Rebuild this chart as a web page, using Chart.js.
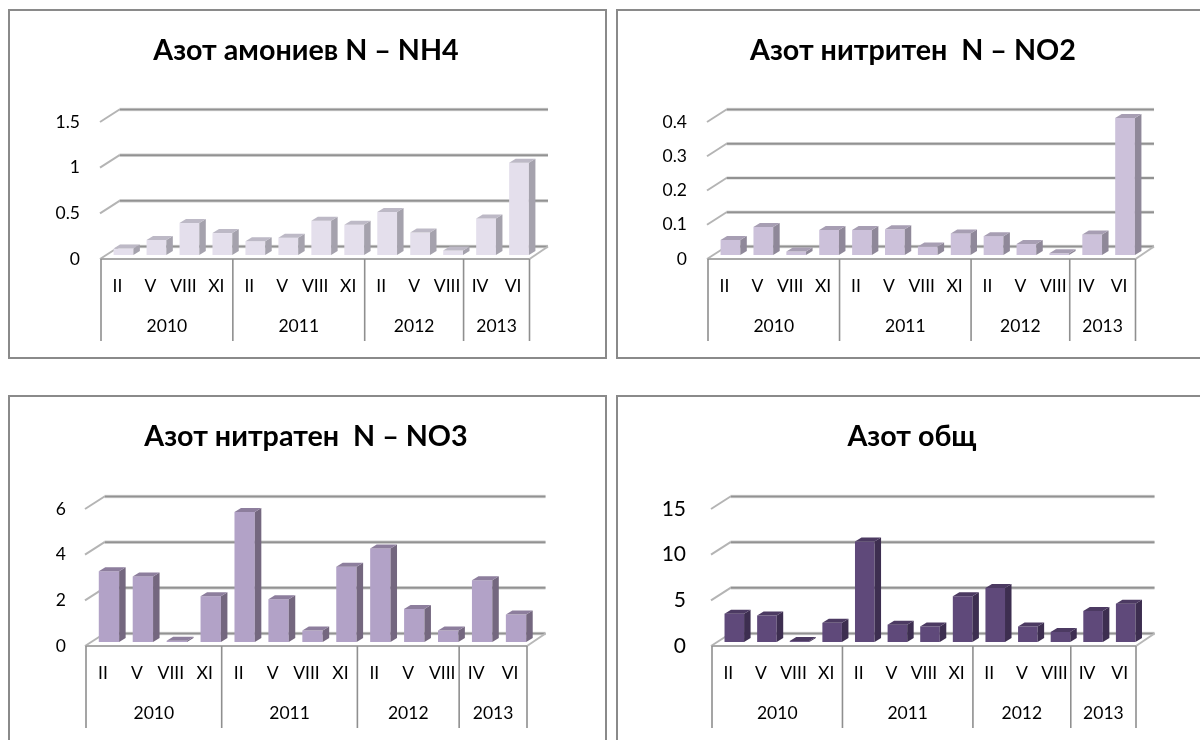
<!DOCTYPE html>
<html><head><meta charset="utf-8">
<style>
html,body{margin:0;padding:0;background:#fff;overflow:hidden;width:1200px;height:740px}
.panel{position:absolute;box-sizing:border-box;border:2px solid #8a8a8a;background:#fff}
.panel canvas{position:absolute;left:-2px;top:-2px}
</style>
<script src="https://cdn.jsdelivr.net/npm/chart.js@4"></script>
</head><body>
<script>
const months = ['II','V','VIII','XI','II','V','VIII','XI','II','V','VIII','IV','VI'];
const yearLabels = ['2010','2011','2012','2013'];
const yearSpans = [4,4,3,2];
const ammoniumValues = [0.07,0.165,0.35,0.24,0.15,0.19,0.375,0.33,0.47,0.245,0.05,0.40,1.01];
const nitriteValues = [0.044,0.082,0.01,0.073,0.073,0.075,0.025,0.063,0.055,0.032,0.005,0.06,0.40];
const nitrateValues = [3.1,2.87,0.05,2.0,5.69,1.87,0.5,3.3,4.1,1.45,0.5,2.7,1.2];
const totalValues = [3.1,2.9,0.1,2.1,11.0,1.9,1.7,5.0,5.9,1.7,1.1,3.4,4.2];

const charts = [
 {title:'Азот амониев N – NH4', values:ammoniumValues, max:1.5, step:0.5, tickFont:17.5, tickPad:21, titleMid:51, titleX:306,
  panel:[8,9,599,350], axis:[101,529.5,259], colors:['#E4DFEC','#A5A2AD','#BDB9C6']},
 {title:'Азот нитритен  N – NO2', values:nitriteValues, max:0.4, step:0.1, tickFont:17.5, tickPad:21, titleMid:51, titleX:913,
  panel:[616,9,594,350], axis:[708,1135.5,259], colors:['#CCC1DA','#8F8899','#A79EB3']},
 {title:'Азот нитратен  N – NO3', values:nitrateValues, max:6, step:2, tickFont:17.5, tickPad:20, titleMid:437, titleX:306,
  panel:[8,395,599,350], axis:[86,527,646], colors:['#B2A2C7','#74677F','#8D7E9D']},
 {title:'Азот общ', values:totalValues, max:15, step:5, tickFont:21, tickPad:26, titleMid:437, titleX:912,
  panel:[616,395,594,350], axis:[712,1136,646], colors:['#5F497A','#3D2E50','#4C3A62']}
];
const FONT = 'Lato';
const PLOT_H = 137, DEPTH_X = 18.5, DEPTH_Y = 12.5, BAR_DX = 6, BAR_DY = 4, SIDE_X = 6.5, SIDE_Y = 4;
const MONTH_ROW = 41, YEAR_ROW = 41, TITLE_SIZE = 28.7;

function line(ctx,x1,y1,x2,y2,color,w){
  ctx.strokeStyle=color;ctx.lineWidth=w;ctx.beginPath();ctx.moveTo(x1,y1);ctx.lineTo(x2,y2);ctx.stroke();
}
const frame3d = {
  id:'frame3d',
  beforeDatasetsDraw(chart){
    const {ctx,scales:{x,y}} = chart;
    const L=x.left,R=x.right;
    ctx.save();
    y.ticks.forEach(t=>{
      const py=y.getPixelForValue(t.value);
      line(ctx,L-1,py,L+DEPTH_X,py-DEPTH_Y,'#b4b4b4',2);
      line(ctx,L+DEPTH_X,py-DEPTH_Y,R+DEPTH_X,py-DEPTH_Y,'#dedede',3.6);
      line(ctx,L+DEPTH_X,py-DEPTH_Y,R+DEPTH_X,py-DEPTH_Y,'#929292',2);
    });
    const f=y.getPixelForValue(0);
    line(ctx,R,f,R+DEPTH_X,f-DEPTH_Y,'#b8b8b8',2);
    line(ctx,L,f,R,f,'#a8a8a8',2);
    let n=0;
    const edges=[0,...yearSpans.map(s=>(n+=s))];
    edges.forEach(e=>{
      const px=L+(R-L)*e/months.length;
      line(ctx,px,f,px,f+MONTH_ROW+YEAR_ROW,'#8f8f8f',1.6);
    });
    ctx.restore();
  },
  beforeDatasetDraw(chart){
    chart.ctx.save();
    chart.ctx.translate(BAR_DX,-BAR_DY);
  },
  afterDatasetDraw(chart,args){
    const ctx=chart.ctx, c=chart.data.datasets[args.index].faceColors;
    args.meta.data.forEach(b=>{
      const {x,y,base,width}=b.getProps(['x','y','base','width'],true);
      const l=x-width/2,r=x+width/2;
      ctx.fillStyle=c[1];
      ctx.beginPath();ctx.moveTo(r,y);ctx.lineTo(r+SIDE_X,y-SIDE_Y);ctx.lineTo(r+SIDE_X,base-SIDE_Y);ctx.lineTo(r,base);ctx.closePath();ctx.fill();
      ctx.fillStyle=c[2];
      ctx.beginPath();ctx.moveTo(l,y);ctx.lineTo(l+SIDE_X,y-SIDE_Y);ctx.lineTo(r+SIDE_X,y-SIDE_Y);ctx.lineTo(r,y);ctx.closePath();ctx.fill();
    });
    ctx.restore();
  }
};

charts.forEach(cfg=>{
  const [pl,pt,pw,ph]=cfg.panel, [al,ar,floor]=cfg.axis;
  const div=document.createElement('div');
  div.className='panel';
  div.style.cssText=`left:${pl}px;top:${pt}px;width:${pw}px;height:${ph}px`;
  const cv=document.createElement('canvas');
  cv.width=pw;cv.height=ph;cv.style.width=pw+'px';cv.style.height=ph+'px';
  div.appendChild(cv);document.body.appendChild(div);
  const plotTop=floor-pt-PLOT_H;
  const titleH=TITLE_SIZE*1.2, titleTop=cfg.titleMid-pt-titleH/2;
  const padR=Math.max(0,pw-2*(cfg.titleX-pl));   // keeps the title centred where the reference has it
  const gutter=pw-(ar-pl)-padR;                   // empty space right of the floor, held by a hidden axis
  new Chart(cv,{
    type:'bar',
    data:{labels:months,datasets:[{data:cfg.values,backgroundColor:cfg.colors[0],faceColors:cfg.colors,borderWidth:0,clip:false,
      categoryPercentage:1,barPercentage:0.6,yAxisID:'y'}]},
    options:{
      responsive:false,animation:false,devicePixelRatio:1,
      layout:{autoPadding:false,padding:{left:0,top:0,right:padR,bottom:ph-(floor-pt)-MONTH_ROW-YEAR_ROW}},
      plugins:{
        legend:{display:false},tooltip:{enabled:false},
        title:{display:true,text:cfg.title,color:'#000',
          font:{family:FONT,size:TITLE_SIZE,weight:'bold',lineHeight:1.2},
          padding:{top:titleTop,bottom:plotTop-titleTop-titleH}}
      },
      scales:{
        x:{type:'category',position:'bottom',weight:0,offset:true,
          grid:{display:false,drawTicks:false},border:{display:false},
          ticks:{autoSkip:false,maxRotation:0,minRotation:0,padding:17,color:'#000',font:{family:FONT,size:17.5}},
          afterFit(s){s.height=MONTH_ROW;}},
        x2:{type:'linear',position:'bottom',weight:1,min:0,max:months.length,offset:false,
          grid:{display:false,drawTicks:false},border:{display:false},
          afterBuildTicks(s){let n=0;s.ticks=yearSpans.map(v=>{const m=n+v/2;n+=v;return {value:m};});},
          ticks:{autoSkip:false,maxRotation:0,minRotation:0,padding:16,color:'#000',font:{family:FONT,size:17.5},
            callback:(v,i)=>yearLabels[i]},
          afterFit(s){s.height=YEAR_ROW;}},
        y:{type:'linear',position:'left',min:0,max:cfg.max,
          grid:{display:false,drawTicks:false},border:{display:false},
          ticks:{stepSize:cfg.step,padding:cfg.tickPad,color:'#000',font:{family:FONT,size:cfg.tickFont},
            callback:v=>String(+v.toFixed(2))},
          afterFit(s){s.width=al-pl;}},
        gutter:{type:'linear',position:'right',min:0,max:1,
          grid:{display:false,drawTicks:false},border:{display:false},
          ticks:{display:false},
          afterFit(s){s.width=gutter;}}
      }
    },
    plugins:[frame3d]
  });
});
</script>
</body></html>
